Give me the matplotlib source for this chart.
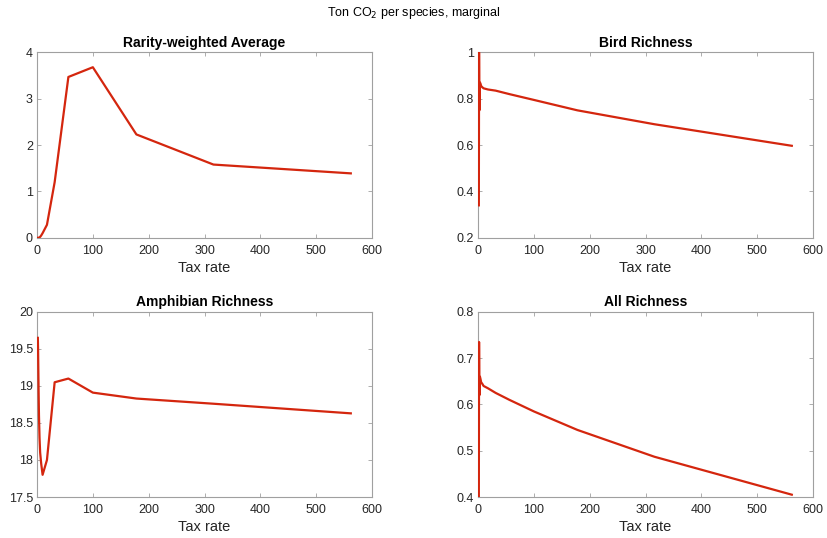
import matplotlib.pyplot as plt

plt.rcParams['font.family'] = ['Liberation Sans', 'DejaVu Sans']

tax = [1.5, 1.9, 2.4, 2.9, 3.5, 4.5, 5.62, 7.5, 10, 17.8, 31.6, 56.2, 100, 178, 316, 562]

rarity = [0.0, 0.0, 0.0, 0.0, 0.0, 0.01, 0.02, 0.05, 0.1, 0.28, 1.2, 3.47, 3.68, 2.23, 1.58, 1.39]
bird = [0.34, 1.0, 0.75, 0.86, 0.87, 0.865, 0.855, 0.85, 0.845, 0.84, 0.835, 0.82, 0.795, 0.75, 0.69, 0.597]
amphibian = [19.65, 19.5, 19.2, 18.9, 18.6, 18.3, 18.1, 17.95, 17.8, 18.0, 19.05, 19.1, 18.91, 18.83, 18.76, 18.63]
allrich = [0.40, 0.735, 0.62, 0.655, 0.66, 0.655, 0.648, 0.645, 0.64, 0.635, 0.625, 0.61, 0.585, 0.545, 0.487, 0.405]

panels = [
    ('Rarity-weighted Average', rarity, (0, 4), [0, 1, 2, 3, 4], ['0', '1', '2', '3', '4']),
    ('Bird Richness', bird, (0.2, 1), [0.2, 0.4, 0.6, 0.8, 1], ['0.2', '0.4', '0.6', '0.8', '1']),
    ('Amphibian Richness', amphibian, (17.5, 20), [17.5, 18, 18.5, 19, 19.5, 20],
     ['17.5', '18', '18.5', '19', '19.5', '20']),
    ('All Richness', allrich, (0.4, 0.8), [0.4, 0.5, 0.6, 0.7, 0.8], ['0.4', '0.5', '0.6', '0.7', '0.8']),
]

# axes rectangles in figure fractions (left, bottom, width, height)
rects = [
    (0.0447, 0.558, 0.4046, 0.3446),
    (0.5773, 0.558, 0.4046, 0.3446),
    (0.0447, 0.0762, 0.4046, 0.344),
    (0.5773, 0.0762, 0.4046, 0.344),
]

fig = plt.figure(figsize=(8.28, 5.38), dpi=100)
line_color = '#d4260e'
grey = '#262626'

for (title, vals, ylim, yt, ytl), r in zip(panels, rects):
    ax = fig.add_axes(r)
    ax.plot(tax, vals, color=line_color, linewidth=1.6, zorder=4)
    ax.set_xlim(0, 600)
    ax.set_ylim(*ylim)
    ax.set_xticks([0, 100, 200, 300, 400, 500, 600])
    ax.set_yticks(yt)
    ax.set_yticklabels(ytl)
    ax.set_title(title, fontsize=10, fontweight='bold', pad=4)
    ax.set_xlabel('Tax rate', fontsize=10.5, color=grey, labelpad=3)
    for s in ax.spines.values():
        s.set_color('#a0a0a0')
        s.set_linewidth(0.8)
    ax.tick_params(direction='in', length=3, width=0.6, color='#a0a0a0',
                   labelsize=9, labelcolor=grey, top=True, right=True)
    ax.tick_params(axis='x', pad=5)
    ax.tick_params(axis='y', pad=3)

fig.suptitle('Ton CO$_2$ per species, marginal', y=0.99, fontsize=9, color='black')

fig.savefig('out.png', dpi=100, facecolor='white')
